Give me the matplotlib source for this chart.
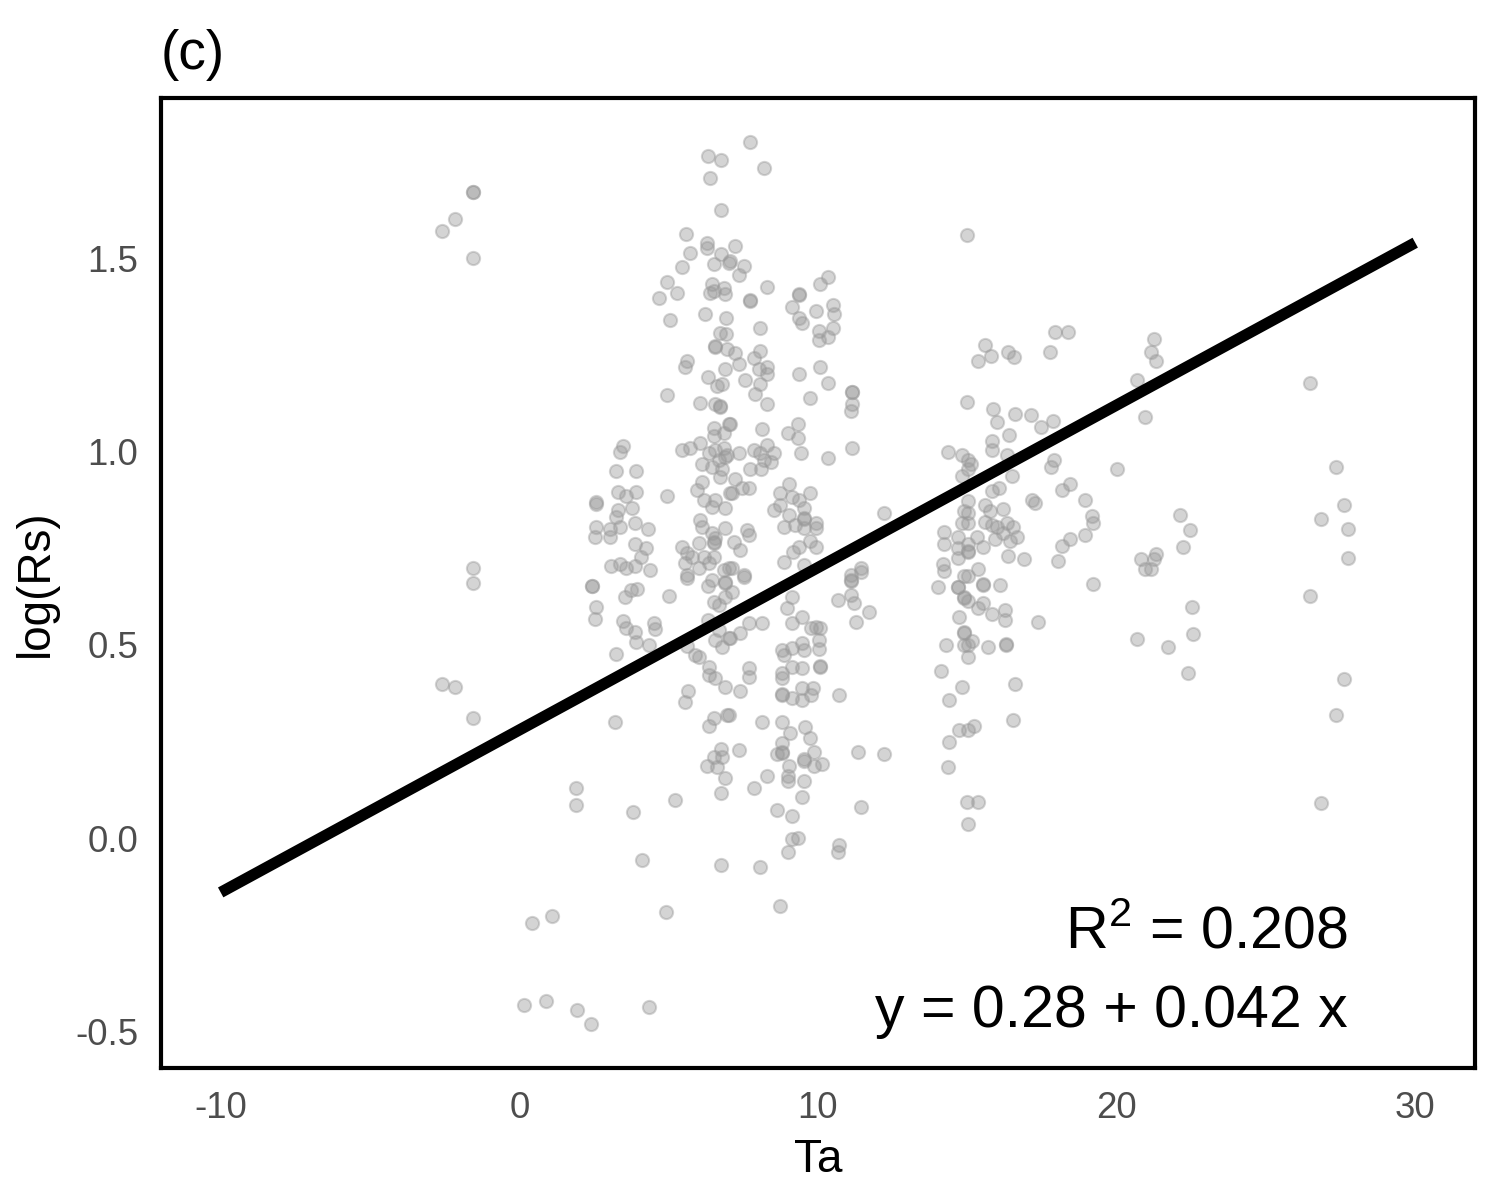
import numpy as np
import matplotlib
matplotlib.use("Agg")
import matplotlib.pyplot as plt

plt.rcParams['font.family'] = ['Liberation Sans', 'DejaVu Sans']
plt.rcParams['mathtext.fontset'] = 'custom'
plt.rcParams['mathtext.rm'] = 'Liberation Sans'
plt.rcParams['axes.unicode_minus'] = False

# ---- data (Ta, log(Rs)) ----
ta_left = [-2.6, -2.15, -1.56, -1.56, -1.56, -1.56, -1.56, -2.6, -2.15, -1.56,
           1.9, 1.9, 0.43, 1.1, 0.17, 0.9, 1.93, 2.4, 4.33, 3.8, 4.1, 4.9, 5.2, 3.2]
rs_left = [1.57, 1.60, 1.67, 1.67, 1.50, 0.70, 0.66, 0.40, 0.39, 0.31,
           0.13, 0.085, -0.22, -0.20, -0.43, -0.42, -0.445, -0.48, -0.435, 0.067, -0.057, -0.19, 0.10, 0.30]

ta_c3 = [2.43, 2.43, 2.56, 2.53, 3.53, 3.73, 3.93, 5.0, 3.46, 3.56, 3.86, 3.9, 4.33, 4.5, 4.56, 3.23,
         3.46, 3.36, 3.23, 3.9, 2.56, 2.56, 3.3, 3.56, 3.9, 4.96, 3.3, 3.76, 3.23, 2.56, 3.03, 3.36,
         3.86, 4.3, 2.53, 3.03, 3.86, 4.23, 3.06, 3.36, 3.56, 3.86, 4.06, 4.36]
rs_c3 = [0.652, 0.652, 0.598, 0.567, 0.624, 0.642, 0.644, 0.626, 0.562, 0.544, 0.533, 0.508, 0.50, 0.557, 0.541, 0.477,
         1.015, 1.0, 0.95, 0.95, 0.87, 0.865, 0.895, 0.885, 0.895, 0.885, 0.85, 0.855, 0.83, 0.805, 0.80, 0.805,
         0.815, 0.80, 0.78, 0.78, 0.76, 0.75, 0.705, 0.71, 0.70, 0.705, 0.727, 0.693]

ta_c6 = [5.62, 5.66, 5.56, 6.36, 6.52, 6.76, 6.76, 6.9, 6.29, 6.52, 6.76, 6.79, 6.62,
         6.32, 6.76, 6.39, 6.76, 5.59, 6.29, 6.29, 5.72, 5.46, 6.76, 6.52, 7.02, 4.96, 5.29, 4.69, 5.06,
         6.46, 6.52, 6.86, 6.9, 6.39, 6.22, 6.92, 6.72, 6.92, 6.56, 6.56, 6.96, 5.62, 5.56, 6.32, 6.89,
         6.62, 6.79, 4.96, 6.06, 6.56, 6.72, 6.72, 6.52, 7.02, 6.52, 6.86, 5.46, 5.72, 6.06, 6.36, 6.56,
         6.86, 6.69, 6.89, 6.12, 6.46, 6.79, 6.72, 6.12, 5.96, 6.19, 6.56, 6.89, 7.06, 6.46, 6.06, 6.12,
         6.89, 6.46, 6.56, 6.52, 6.52, 6.02, 5.46, 5.62, 5.56, 5.79, 6.19, 6.36, 6.52, 5.62, 6.02, 6.86, 7.02,
         6.32, 6.46, 6.89, 6.89, 6.52, 6.69, 6.89, 5.62, 5.89, 6.02, 6.32, 6.36, 6.36, 6.56, 6.89, 6.96,
         6.56, 6.79, 7.02, 6.69]
rs_c6 = [0.673, 0.38, 0.353, 0.29, 0.31, -0.07, 0.116, 0.157, 0.186, 0.21, 0.232, 0.209, 0.183,
         1.765, 1.755, 1.706, 1.624, 1.562, 1.539, 1.526, 1.513, 1.477, 1.51, 1.485, 1.487, 1.438, 1.41, 1.397, 1.34,
         1.433, 1.415, 1.423, 1.407, 1.41, 1.356, 1.345, 1.307, 1.305, 1.273, 1.27, 1.265, 1.234, 1.219, 1.193, 1.214,
         1.17, 1.175, 1.147, 1.126, 1.123, 1.118, 1.115, 1.061, 1.072, 1.041, 1.049, 1.005, 1.008, 1.021, 0.995, 1.003,
         1.01, 0.977, 0.985, 0.969, 0.959, 0.956, 0.933, 0.92, 0.9, 0.874, 0.874, 0.853, 0.894, 0.856, 0.822, 0.804,
         0.802, 0.789, 0.776, 0.763, 0.765, 0.763, 0.753, 0.737, 0.711, 0.727, 0.727, 0.711, 0.727, 0.68, 0.70, 0.693, 0.70,
         0.652, 0.668, 0.662, 0.66, 0.611, 0.603, 0.624, 0.497, 0.474, 0.469, 0.564, 0.443, 0.423, 0.415, 0.392, 0.32,
         0.513, 0.495, 0.518, 0.539]

ta_c9 = [7.72, 8.19, 7.22, 7.05, 7.52, 7.35, 8.29, 7.72, 7.72, 9.38, 9.38, 9.12, 9.35, 9.45, 10.35, 10.08,
         10.52, 10.55, 9.92, 10.52, 10.05, 10.35, 10.05, 8.05, 7.22, 7.35, 7.85, 8.05, 8.02, 8.29, 8.29, 7.55,
         8.05, 7.89, 8.29, 9.38, 10.08, 10.35, 9.72, 11.15, 11.15, 11.15, 11.11, 7.05, 8.12, 9.32, 8.99, 9.32,
         9.42, 10.35, 11.15, 6.96, 7.35, 7.85, 8.05, 8.29, 8.52, 8.19, 8.42, 7.72, 8.09, 7.22, 7.45, 7.69, 7.12,
         7.62, 7.69, 7.19, 7.39, 7.12, 7.52, 9.02, 8.72, 9.12, 9.35, 9.72, 8.52, 8.72, 9.02, 9.52, 9.52, 9.52,
         9.22, 8.85, 9.52, 9.95, 9.95, 9.72, 9.95, 9.18, 9.38, 8.85, 9.52, 11.11, 11.45,
         7.52, 7.12, 11.11, 11.11, 11.45, 10.68, 11.11, 11.21, 11.28, 11.71, 9.12, 8.95, 9.45, 9.12, 8.12, 7.69,
         7.39, 7.05, 8.79, 8.85, 9.12, 9.45, 9.52, 9.78, 9.95, 10.08, 10.05, 10.05, 10.08, 10.08, 9.45, 9.12,
         8.79, 8.79, 7.69, 7.69, 7.39, 8.79, 8.79, 9.12, 9.45, 9.45, 9.85, 9.78, 10.72, 7.02, 8.12, 8.79, 9.08,
         9.55, 9.72, 9.88, 10.12, 9.88, 9.52, 9.52, 8.79, 8.79, 8.79, 8.62, 9.02, 8.99, 8.99, 9.52, 9.45, 8.29,
         7.85, 7.35, 8.62, 9.12, 9.12, 9.32, 8.99, 10.72, 10.68, 11.35, 11.45, 8.05, 8.72]
rs_c9 = [1.80, 1.733, 1.531, 1.492, 1.479, 1.456, 1.425, 1.392, 1.39, 1.407, 1.405, 1.374, 1.345, 1.332, 1.451, 1.433,
         1.379, 1.356, 1.363, 1.32, 1.312, 1.296, 1.289, 1.32, 1.255, 1.227, 1.242, 1.26, 1.214, 1.219, 1.201, 1.186,
         1.175, 1.149, 1.124, 1.201, 1.219, 1.178, 1.139, 1.155, 1.153, 1.124, 1.106, 1.072, 1.057, 1.07, 1.049, 1.034,
         0.995, 0.982, 1.01, 0.99, 0.995, 1.003, 0.995, 1.018, 0.997, 0.977, 0.972, 0.956, 0.956, 0.93, 0.905, 0.905, 0.892,
         0.796, 0.784, 0.765, 0.745, 0.70, 0.68, 0.915, 0.892, 0.882, 0.874, 0.894, 0.848, 0.861, 0.835, 0.853, 0.827, 0.825,
         0.809, 0.804, 0.802, 0.815, 0.802, 0.768, 0.753, 0.74, 0.753, 0.714, 0.706, 0.68, 0.698,
         0.675, 0.637, 0.668, 0.665, 0.688, 0.616, 0.629, 0.608, 0.559, 0.585, 0.624, 0.595, 0.572, 0.557, 0.557, 0.557,
         0.531, 0.518, 0.487, 0.474, 0.492, 0.505, 0.487, 0.544, 0.546, 0.544, 0.513, 0.49, 0.443, 0.445, 0.44, 0.443,
         0.428, 0.415, 0.44, 0.418, 0.381, 0.371, 0.373, 0.363, 0.358, 0.389, 0.389, 0.371, 0.371, 0.32, 0.30, 0.30, 0.273,
         0.289, 0.26, 0.224, 0.191, 0.186, 0.204, 0.2, 0.247, 0.222, 0.22, 0.217, 0.186, 0.16, 0.147, 0.147, 0.106, 0.16,
         0.131, 0.229, 0.072, 0.057, -0.003, 0.0, -0.036, -0.018, -0.036, 0.224, 0.082, -0.075, -0.175]

ta_c15 = [14.98, 15.61, 15.37, 15.81, 16.37, 16.57, 14.98, 15.87, 16.01, 16.61, 16.41, 15.84, 15.84, 16.34,
          14.34, 14.84, 15.01, 15.11, 14.84, 15.04, 16.51, 15.84, 16.07, 15.01, 15.61, 16.21, 15.77, 14.88,
          15.04, 14.84, 15.04, 15.61, 15.84, 16.01, 16.34, 16.54, 14.21, 14.68, 15.34, 15.94, 16.21, 16.44,
          14.21, 14.68, 15.01, 15.01, 15.01, 15.54, 16.37, 14.68, 14.18, 14.21, 14.88, 15.04, 15.37, 14.01,
          14.68, 14.68, 15.54, 15.54, 16.11, 14.88, 14.88, 15.04, 15.37, 15.54, 15.84, 14.71, 16.27, 16.27,
          14.88, 14.88, 14.88, 15.17, 15.01, 15.01, 14.28, 15.71, 16.31, 16.31, 14.11, 14.84, 14.38, 16.61,
          14.71, 15.04, 15.21, 14.38, 16.54, 14.34, 14.98, 15.37, 15.01, 12.21, 12.21]
rs_c15 = [1.559, 1.276, 1.235, 1.247, 1.258, 1.245, 1.129, 1.111, 1.077, 1.098, 1.044, 1.026, 1.003, 0.992,
          1.0, 0.99, 0.979, 0.969, 0.938, 0.954, 0.938, 0.897, 0.905, 0.871, 0.861, 0.851, 0.845, 0.845,
          0.84, 0.814, 0.814, 0.817, 0.809, 0.804, 0.814, 0.804, 0.791, 0.778, 0.778, 0.773, 0.789, 0.768,
          0.76, 0.75, 0.76, 0.74, 0.742, 0.753, 0.729, 0.724, 0.709, 0.691, 0.678, 0.678, 0.696, 0.649,
          0.649, 0.651, 0.655, 0.657, 0.655, 0.621, 0.623, 0.613, 0.595, 0.608, 0.58, 0.572, 0.59, 0.564,
          0.531, 0.5, 0.533, 0.51, 0.469, 0.5, 0.5, 0.495, 0.5, 0.502, 0.433, 0.392, 0.358, 0.4,
          0.281, 0.281, 0.291, 0.25, 0.307, 0.183, 0.093, 0.093, 0.036, 0.84, 0.219]

ta_right = [17.94, 18.37, 17.77, 17.14, 17.87, 17.47, 17.9, 17.8, 18.44, 18.17, 18.94, 17.17, 17.27, 19.17,
            19.2, 18.94, 18.44, 18.17, 18.04, 16.91, 16.67, 19.2, 17.37,
            21.26, 21.16, 21.33, 20.67, 20.96, 26.46, 20.0, 22.13, 22.46, 22.23, 20.83, 21.33, 21.26, 20.96,
            21.16, 22.53, 22.56, 20.67, 21.73, 22.4, 27.35, 27.62, 26.86, 27.75, 27.75, 26.46, 27.62, 27.35, 26.86]
rs_right = [1.309, 1.309, 1.258, 1.095, 1.08, 1.064, 0.977, 0.961, 0.915, 0.9, 0.874, 0.874, 0.866, 0.832,
            0.814, 0.784, 0.773, 0.755, 0.717, 0.722, 0.778, 0.657, 0.559,
            1.291, 1.258, 1.235, 1.186, 1.088, 1.178, 0.956, 0.835, 0.796, 0.753, 0.722, 0.735, 0.722, 0.696,
            0.696, 0.598, 0.528, 0.515, 0.495, 0.428, 0.961, 0.863, 0.825, 0.799, 0.724, 0.626, 0.412, 0.32, 0.090]

ta = np.array(ta_left + ta_c3 + ta_c6 + ta_c9 + ta_c15 + ta_right)
log_rs = np.array(rs_left + rs_c3 + rs_c6 + rs_c9 + rs_c15 + rs_right)

intercept = 0.28
slope = 0.042
line_x = [-10, 30]
r2_text = r"R$^{2}$ = 0.208"
eq_text = "y = 0.28 + 0.042 x"

# ---- figure ----
fig = plt.figure(figsize=(5, 4), dpi=300)
ax = fig.add_axes([0.1073, 0.110, 0.8760, 0.8083])

ax.scatter(ta, log_rs, s=10, color='#999999', alpha=0.42, linewidths=0.5,
           edgecolors='#999999', zorder=2)

lx = np.array(line_x, dtype=float)
ly = intercept + slope * lx
ax.plot(lx, ly, color='black', linewidth=2.7, solid_capstyle='butt', zorder=3)

# ggplot-like 5% expansion
xmin = min(ta.min(), lx.min()); xmax = max(ta.max(), lx.max())
ymin = min(log_rs.min(), ly.min()); ymax = max(log_rs.max(), ly.max())
dx = (xmax - xmin) * 0.05; dy = (ymax - ymin) * 0.05
ax.set_xlim(xmin - dx, xmax + dx)
ax.set_ylim(ymin - dy, ymax + dy)

ax.set_xticks([-10, 0, 10, 20, 30])
ax.set_xticklabels(['-10', '0', '10', '20', '30'])
ax.set_yticks([-0.5, 0.0, 0.5, 1.0, 1.5])
ax.set_yticklabels(['-0.5', '0.0', '0.5', '1.0', '1.5'])
ax.tick_params(length=0, labelsize=8.8, labelcolor='#4d4d4d', pad=5.5)

for s in ax.spines.values():
    s.set_linewidth(1.0)
    s.set_color('black')

ax.set_xlabel('Ta', fontsize=11, labelpad=3)
ax.set_ylabel('log(Rs)', fontsize=11, labelpad=4)
ax.set_title('(c)', loc='left', fontsize=13.2, pad=7)

ax.text(27.75, -0.285, r2_text, ha='right', va='baseline', fontsize=14.2)
ax.text(27.75, -0.487, eq_text, ha='right', va='baseline', fontsize=14.2)

fig.savefig('out.png', dpi=300, facecolor='white')
